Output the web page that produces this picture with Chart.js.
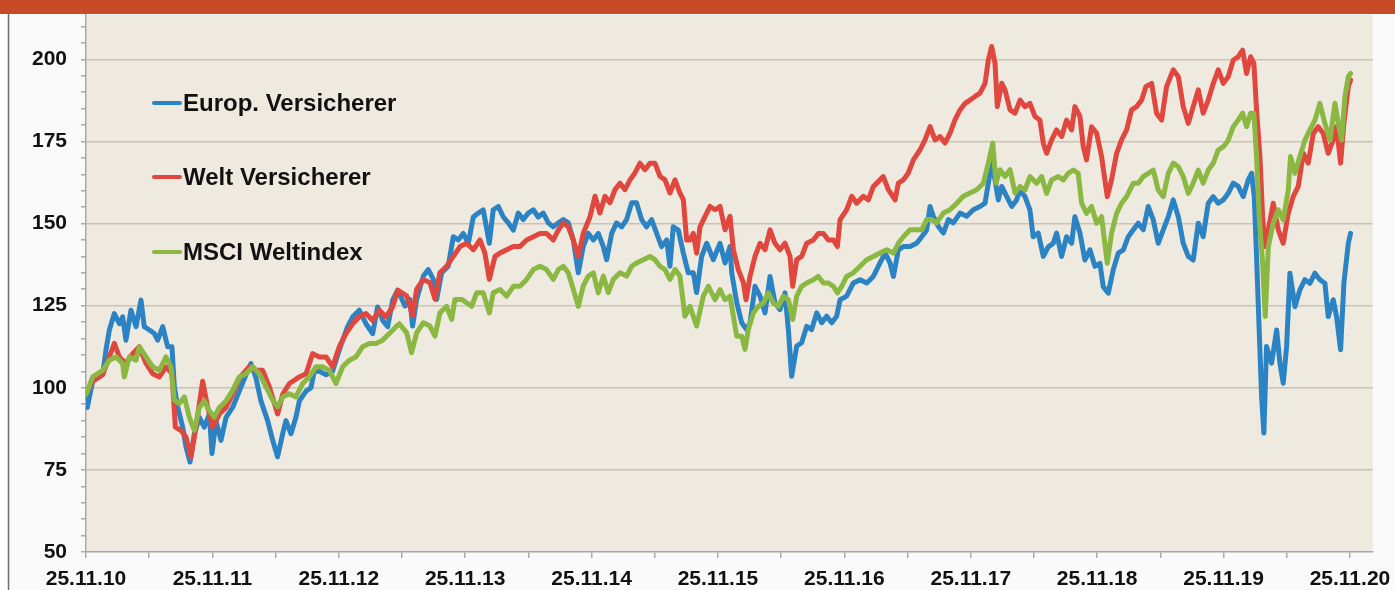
<!DOCTYPE html>
<html>
<head>
<meta charset="utf-8">
<script src="https://cdn.jsdelivr.net/npm/chart.js@4/dist/chart.umd.min.js"></script>
<style>
  html, body { margin: 0; padding: 0; background: #fff; }
  #wrap { position: relative; width: 1395px; height: 590px; }
</style>
</head>
<body>
<div id="wrap"><canvas id="chart" width="1395" height="590"></canvas></div>
<script>
// x = years since 25.11.10
const xLabels = ['25.11.10', '25.11.11', '25.11.12', '25.11.13', '25.11.14', '25.11.15',
  '25.11.16', '25.11.17', '25.11.18', '25.11.19', '25.11.20'];
const seriesNames = ['Europ. Versicherer', 'Welt Versicherer', 'MSCI Weltindex'];

const europ = [[0,98],[0.01,94],[0.053,102],[0.132,104],[0.158,111.5],[0.185,117.6],[0.224,122.6],[0.264,119.5],[0.290,121.6],[0.316,114.5],[0.356,123.6],[0.396,118.6],[0.435,126.7],[0.461,118.6],[0.501,117.6],[0.541,116.5],[0.567,114.5],[0.607,118.6],[0.646,112.5],[0.680,112.5],[0.699,100.3],[0.725,94.2],[0.765,88],[0.791,82],[0.823,77.4],[0.857,86],[0.897,91],[0.936,88],[0.976,92],[0.997,80],[1.028,90],[1.068,84],[1.108,91],[1.160,94],[1.213,99],[1.266,104],[1.305,107.4],[1.345,103],[1.384,96],[1.437,90],[1.477,84],[1.516,79],[1.556,86],[1.582,90],[1.622,86],[1.661,91],[1.688,96],[1.741,99],[1.780,100],[1.806,105],[1.846,105],[1.899,104],[1.951,105],[1.991,110],[2.031,114.5],[2.070,118.6],[2.110,121.6],[2.162,123.6],[2.215,119.5],[2.268,116.5],[2.307,124.6],[2.347,120.5],[2.387,118.6],[2.426,126.7],[2.466,129.7],[2.524,124.9],[2.563,126.9],[2.584,118.8],[2.616,126.9],[2.669,134],[2.708,136],[2.748,133],[2.774,126.9],[2.814,135],[2.866,137],[2.906,146],[2.945,145],[2.985,147],[3.025,144],[3.064,152],[3.104,153.2],[3.143,154.2],[3.191,144],[3.222,154.2],[3.262,155.2],[3.302,152],[3.341,150.2],[3.381,148],[3.420,153.2],[3.460,151.2],[3.499,153.2],[3.539,154.2],[3.578,152],[3.618,153.2],[3.658,150.2],[3.697,149],[3.737,150.2],[3.776,151.2],[3.816,150.2],[3.855,145],[3.895,135],[3.934,143],[3.974,147],[4.014,145],[4.053,147],[4.093,143],[4.119,139],[4.159,147],[4.198,150.2],[4.238,149],[4.277,151.2],[4.317,156.3],[4.356,156.3],[4.396,151.2],[4.435,149],[4.475,151.2],[4.515,147],[4.554,143],[4.594,145],[4.620,137],[4.646,149],[4.686,148],[4.726,141],[4.765,135],[4.805,135],[4.831,129],[4.871,140],[4.911,144],[4.963,139],[5.016,144],[5.056,138],[5.095,143],[5.109,135],[5.148,126],[5.188,119.8],[5.227,117.7],[5.254,119.8],[5.293,130.9],[5.333,127.9],[5.372,122.8],[5.412,133.9],[5.451,125.8],[5.491,123.8],[5.530,128.9],[5.557,117.7],[5.583,103.5],[5.623,112.7],[5.662,113.7],[5.702,118.7],[5.741,117.7],[5.781,122.8],[5.821,119.8],[5.860,121.8],[5.900,119.8],[5.939,121.8],[5.966,126.8],[6.018,127.9],[6.071,131.9],[6.124,132.9],[6.177,131.9],[6.229,133.9],[6.282,138],[6.322,141],[6.361,138],[6.388,133.9],[6.427,142],[6.467,143],[6.519,143],[6.572,144],[6.612,146],[6.651,148],[6.678,155.2],[6.704,152.2],[6.744,149.1],[6.783,147.1],[6.823,151.2],[6.862,150.2],[6.915,153.2],[6.968,152.2],[7.020,154.2],[7.073,155.2],[7.113,156.2],[7.139,162.3],[7.165,168.4],[7.192,163.3],[7.218,157.2],[7.245,161.3],[7.284,158.3],[7.324,155.2],[7.363,157.2],[7.389,160.2],[7.429,158.2],[7.468,154.2],[7.494,146],[7.534,147.1],[7.574,140],[7.613,142.9],[7.653,144],[7.679,147.1],[7.719,140],[7.758,146],[7.798,144],[7.824,152.1],[7.864,147.1],[7.903,138.9],[7.943,142],[7.982,137],[8.022,137.9],[8.048,130.8],[8.088,128.8],[8.127,135.9],[8.167,141],[8.207,142],[8.246,146],[8.286,148.1],[8.325,150.1],[8.365,148.1],[8.404,155.2],[8.444,151.1],[8.483,144],[8.523,148.1],[8.563,152.1],[8.602,157.2],[8.642,152.1],[8.681,144],[8.721,140],[8.760,138.9],[8.800,150.1],[8.839,146],[8.879,156.2],[8.919,158.2],[8.958,156.2],[8.998,157.2],[9.037,159.2],[9.077,162.3],[9.116,161.3],[9.156,158.2],[9.195,163.3],[9.222,165.3],[9.243,158.2],[9.261,140],[9.282,117.6],[9.301,97.4],[9.319,86.2],[9.340,112.6],[9.380,107.5],[9.420,117.6],[9.446,107.5],[9.472,101.4],[9.499,112.6],[9.525,134.9],[9.565,124.7],[9.604,129.8],[9.644,132.9],[9.683,131.8],[9.723,134.9],[9.762,132.9],[9.802,131.8],[9.828,121.7],[9.868,126.8],[9.894,121.7],[9.926,111.6],[9.952,131.8],[9.987,144],[10.005,147]];

const welt = [[0,98],[0.053,102],[0.132,104],[0.185,109.4],[0.224,113.5],[0.264,109.4],[0.316,107.4],[0.369,110.4],[0.422,112.5],[0.475,107.4],[0.527,104.3],[0.580,103.3],[0.633,106.4],[0.680,104.3],[0.707,88],[0.752,87],[0.791,85],[0.831,79],[0.870,88],[0.923,102],[0.963,94],[1.002,88],[1.055,92],[1.108,94],[1.160,98],[1.213,103],[1.292,106.4],[1.345,105.3],[1.398,105.3],[1.450,100.3],[1.516,92],[1.556,98],[1.609,101.3],[1.688,103.3],[1.741,104.3],[1.793,110.4],[1.846,109.4],[1.899,109.4],[1.951,106.4],[2.004,112.5],[2.057,116.5],[2.110,119.5],[2.162,121.6],[2.215,122.6],[2.268,120.5],[2.321,123.6],[2.373,121.6],[2.426,124.6],[2.466,129.7],[2.537,128],[2.584,122],[2.616,130],[2.669,133],[2.721,132],[2.761,127],[2.800,135],[2.853,137],[2.906,140],[2.959,143],[3.011,144],[3.064,142],[3.117,145],[3.156,141],[3.191,133],[3.236,140],[3.275,141],[3.328,142],[3.381,143],[3.433,143],[3.486,145],[3.539,146],[3.592,147],[3.644,147],[3.697,145],[3.737,148],[3.776,150.2],[3.816,149],[3.855,145],[3.895,140],[3.934,147],[3.987,152],[4.027,158.3],[4.066,153.2],[4.106,158.3],[4.145,156.3],[4.185,160.3],[4.225,162.3],[4.264,160.3],[4.304,163.3],[4.343,165.4],[4.383,168.4],[4.422,166.4],[4.462,168.4],[4.501,168.4],[4.541,164.4],[4.581,163.3],[4.620,159.3],[4.660,163.3],[4.699,159.3],[4.726,157.3],[4.752,145],[4.778,145],[4.805,147],[4.831,141],[4.858,149],[4.898,152.2],[4.937,155.2],[4.977,154.2],[5.016,155.2],[5.056,148.1],[5.095,152.2],[5.122,142],[5.161,136],[5.201,132],[5.222,126.8],[5.254,134],[5.293,140],[5.333,144],[5.372,142],[5.412,148.1],[5.451,144],[5.491,142],[5.530,144],[5.570,140],[5.591,130.9],[5.623,139],[5.662,140],[5.702,144],[5.755,145],[5.794,147],[5.834,147],[5.873,145],[5.913,145],[5.945,143],[5.966,151.2],[6.018,154.2],[6.058,158.3],[6.097,156.2],[6.150,158.3],[6.190,157.2],[6.229,161.3],[6.282,163.3],[6.308,164.3],[6.348,160.3],[6.401,157.2],[6.427,162.3],[6.467,163.3],[6.506,165.4],[6.546,169.4],[6.598,172.4],[6.638,175.5],[6.678,179.5],[6.717,175.5],[6.757,176.5],[6.796,174.5],[6.836,177.5],[6.875,181.6],[6.915,184.6],[6.955,186.6],[6.994,187.6],[7.034,188.7],[7.073,189.7],[7.113,192.7],[7.139,199.8],[7.165,203.9],[7.192,198.8],[7.210,185.6],[7.245,192.7],[7.271,190.7],[7.311,184.6],[7.350,183.6],[7.390,187.6],[7.429,185.6],[7.468,186.6],[7.508,182.6],[7.547,181.5],[7.574,174.4],[7.600,171.4],[7.640,175.5],[7.679,178.5],[7.719,176.5],[7.758,181.5],[7.798,178.5],[7.824,185.6],[7.864,182.6],[7.890,173.4],[7.916,169.4],[7.956,179.5],[7.996,177.5],[8.035,170.4],[8.080,158.2],[8.114,163.3],[8.154,171.4],[8.193,175.5],[8.233,178.5],[8.272,184.6],[8.312,185.6],[8.352,187.6],[8.386,191.7],[8.431,192.7],[8.470,183.6],[8.510,181.5],[8.549,191.7],[8.602,196.8],[8.642,194.7],[8.681,185.6],[8.721,180.5],[8.760,185.6],[8.800,190.7],[8.839,183.6],[8.879,187.6],[8.919,192.7],[8.958,196.8],[8.998,192.7],[9.037,194.7],[9.077,199.8],[9.116,200.8],[9.151,202.8],[9.182,195.7],[9.214,200.8],[9.240,198.8],[9.261,184.6],[9.288,170.4],[9.309,152.1],[9.327,143],[9.354,148.1],[9.393,156.2],[9.433,148.1],[9.472,144],[9.512,153.1],[9.551,158.2],[9.591,161.3],[9.631,171.4],[9.670,168.4],[9.710,177.4],[9.749,179.5],[9.789,177.4],[9.828,171.4],[9.868,175.5],[9.894,179.5],[9.926,168.4],[9.952,180.5],[9.987,191.7],[10.005,193.7]];

const msci = [[0,98],[0.053,103.3],[0.132,105.3],[0.185,108.4],[0.237,109.4],[0.290,107.4],[0.303,103.3],[0.343,109.4],[0.396,108.4],[0.422,112.5],[0.475,109.4],[0.527,106.4],[0.580,105.3],[0.633,109.4],[0.672,106.4],[0.699,96.2],[0.738,95.2],[0.778,97.2],[0.818,91],[0.857,87],[0.897,94],[0.936,96],[0.976,93],[1.015,91],[1.055,94],[1.108,96],[1.160,99.2],[1.213,103.3],[1.266,104.3],[1.319,106.4],[1.371,104.3],[1.424,100.3],[1.477,96.2],[1.516,94.2],[1.556,97.2],[1.609,98.2],[1.661,97.2],[1.714,101.3],[1.767,103.3],[1.820,106.4],[1.872,106.4],[1.925,105.3],[1.978,101.3],[2.031,106.4],[2.083,108.4],[2.136,109.4],[2.189,112.5],[2.242,113.5],[2.294,113.5],[2.347,114.5],[2.400,116.5],[2.453,118.6],[2.479,119.5],[2.537,116.7],[2.576,110.7],[2.616,116.7],[2.669,119.8],[2.721,118.8],[2.761,115.7],[2.800,122.8],[2.853,124.8],[2.893,120.8],[2.919,126.9],[2.972,126.9],[3.011,125.9],[3.051,124.8],[3.091,128.9],[3.143,128.9],[3.191,122.8],[3.222,128.9],[3.275,129.9],[3.328,127.9],[3.381,130.9],[3.433,130.9],[3.486,133],[3.539,136],[3.592,137],[3.644,136],[3.697,133],[3.737,136],[3.776,137],[3.816,135],[3.855,130],[3.895,124.8],[3.934,131],[3.974,134],[4.014,135],[4.053,128.9],[4.093,134],[4.132,129],[4.172,133],[4.225,135],[4.277,134],[4.317,137],[4.356,138],[4.409,139],[4.462,140],[4.501,139],[4.541,137],[4.581,136],[4.620,133],[4.660,136],[4.699,134],[4.739,121.8],[4.778,124.8],[4.831,118.8],[4.884,127.9],[4.924,130.9],[4.977,126.8],[5.016,129.9],[5.056,126.8],[5.095,127.9],[5.122,121.8],[5.148,115.7],[5.188,115.7],[5.214,111.7],[5.240,117.7],[5.280,122.8],[5.319,124.8],[5.359,125.8],[5.399,128.9],[5.438,125.8],[5.478,124.8],[5.517,127.9],[5.557,126.8],[5.591,120.8],[5.623,127.9],[5.662,130.9],[5.702,131.9],[5.755,132.9],[5.794,133.9],[5.834,131.9],[5.873,131.9],[5.913,130.9],[5.945,128.9],[5.979,130.9],[6.018,133.9],[6.071,135],[6.124,137],[6.177,139],[6.229,140],[6.282,141],[6.335,142],[6.388,141],[6.427,144],[6.467,146],[6.519,148.1],[6.572,148.1],[6.612,148.1],[6.651,151.2],[6.691,151.2],[6.730,150.2],[6.783,153.2],[6.836,154.2],[6.889,156.2],[6.941,158.3],[6.994,159.3],[7.047,160.3],[7.100,162.3],[7.139,168.4],[7.174,174.5],[7.200,162.3],[7.231,166.4],[7.271,164.3],[7.311,166.4],[7.350,159.3],[7.390,161.3],[7.429,160.2],[7.468,164.3],[7.521,162.3],[7.560,164.3],[7.600,159.2],[7.640,163.3],[7.692,164.3],[7.732,163.3],[7.771,165.3],[7.811,166.3],[7.850,165.3],[7.877,156.2],[7.916,153.1],[7.956,155.2],[7.996,150.1],[8.035,152.1],[8.080,137.9],[8.114,147.1],[8.154,153.1],[8.193,156.2],[8.233,158.2],[8.286,162.3],[8.325,162.3],[8.365,164.3],[8.404,165.3],[8.444,166.3],[8.483,160.2],[8.523,158.2],[8.563,165.3],[8.602,168.4],[8.642,167.3],[8.681,164.3],[8.721,159.2],[8.760,162.3],[8.800,166.3],[8.839,162.3],[8.879,166.3],[8.919,168.4],[8.958,172.4],[8.998,173.4],[9.037,175.4],[9.077,179.5],[9.116,181.5],[9.151,183.6],[9.182,179.5],[9.214,183.6],[9.240,183.6],[9.261,170.4],[9.282,152.1],[9.309,137.9],[9.330,121.7],[9.354,143],[9.393,150.1],[9.433,154.2],[9.472,151.1],[9.512,160.2],[9.530,170.4],[9.565,165.3],[9.604,170.4],[9.644,175.4],[9.683,178.5],[9.723,181.5],[9.762,186.6],[9.802,180.5],[9.842,175.4],[9.881,186.6],[9.908,180.5],[9.934,175.4],[9.960,188.6],[9.987,194.7],[10.005,195.7]];

const colors = ['#2B83C4', '#E0473F', '#8AB843'];
const FONT = '"Liberation Sans", Arial, Helvetica, sans-serif';

const toPoints = arr => arr.map(p => ({ x: p[0], y: p[1] }));

// page background, plot background, orange header band
const backdrop = {
  id: 'backdrop',
  beforeDraw(chart) {
    const { ctx, chartArea: a, width, height } = chart;
    ctx.save();
    ctx.fillStyle = '#ffffff';
    ctx.fillRect(0, 0, width, height);
    ctx.fillStyle = '#FAFAFA';
    ctx.fillRect(9, 14, width - 9, height - 14);
    ctx.fillStyle = '#EEEADF';
    ctx.fillRect(a.left, a.top, a.right - a.left, a.bottom - a.top);
    ctx.fillStyle = '#C84A26';
    ctx.fillRect(0, 0, width, 14);
    ctx.strokeStyle = '#6E6E6E';
    ctx.lineWidth = 1.5;
    ctx.beginPath();
    ctx.moveTo(8.5, 14);
    ctx.lineTo(8.5, height);
    ctx.stroke();
    ctx.restore();
  }
};

// legend drawn inside the plot, stacked on the left
const innerLegend = {
  id: 'innerLegend',
  afterDatasetsDraw(chart) {
    const { ctx } = chart;
    const rows = [103, 177, 252];
    ctx.save();
    ctx.font = 'bold 24px ' + FONT;
    ctx.textBaseline = 'middle';
    seriesNames.forEach((name, i) => {
      ctx.strokeStyle = colors[i];
      ctx.lineWidth = 4;
      ctx.lineCap = 'round';
      ctx.beginPath();
      ctx.moveTo(154, rows[i]);
      ctx.lineTo(180, rows[i]);
      ctx.stroke();
      ctx.fillStyle = '#111';
      ctx.fillText(name, 183, rows[i] + 1);
    });
    ctx.restore();
  }
};

const mkSet = (label, data, color, order) => ({
  label, data: toPoints(data), borderColor: color, backgroundColor: color,
  borderWidth: 5, pointRadius: 0, tension: 0, order,
  borderJoinStyle: 'round', borderCapStyle: 'round'
});

new Chart(document.getElementById('chart'), {
  type: 'line',
  data: {
    datasets: [
      mkSet(seriesNames[0], europ, colors[0], 3),
      mkSet(seriesNames[1], welt, colors[1], 2),
      mkSet(seriesNames[2], msci, colors[2], 1)
    ]
  },
  options: {
    responsive: false,
    animation: false,
    events: [],
    layout: { padding: { top: 15, right: 22.3, left: 0, bottom: 0 } },
    plugins: { legend: { display: false }, tooltip: { enabled: false } },
    scales: {
      x: {
        type: 'linear',
        min: 0,
        max: 10.18,
        afterBuildTicks: s => {
          const t = [];
          for (let i = 0; i <= 20; i++) t.push({ value: i / 2 });
          s.ticks = t;
        },
        afterFit: s => { s.height = 38; s.paddingLeft = 0; s.paddingRight = 0; },
        ticks: {
          autoSkip: false, maxRotation: 0, padding: 9, color: '#111',
          font: { family: FONT, size: 21, weight: 'bold' },
          callback: v => Number.isInteger(v) ? xLabels[v] : ''
        },
        grid: { drawOnChartArea: false, tickLength: 6, color: '#A9A9A9', lineWidth: 1.5 },
        border: { color: '#A9A9A9', width: 1.5 }
      },
      y: {
        min: 50,
        max: 213.5,
        afterBuildTicks: s => {
          const t = [];
          for (let v = 50; v <= 210; v += 5) t.push({ value: v });
          s.ticks = t;
        },
        afterFit: s => { s.width = 86; s.paddingTop = 0; s.paddingBottom = 0; },
        ticks: {
          autoSkip: false, padding: 14, color: '#111',
          font: { family: FONT, size: 21, weight: 'bold' },
          callback: v => (v % 25 === 0 ? String(v) : '')
        },
        grid: {
          tickLength: 5,
          lineWidth: 1.5,
          color: c => (c.tick && c.tick.value % 25 === 0 && c.tick.value > 50) ? '#C9C3B6' : 'rgba(0,0,0,0)',
          tickColor: '#A9A9A9'
        },
        border: { color: '#A9A9A9', width: 1.5 }
      }
    }
  },
  plugins: [backdrop, innerLegend]
});
</script>
</body>
</html>
